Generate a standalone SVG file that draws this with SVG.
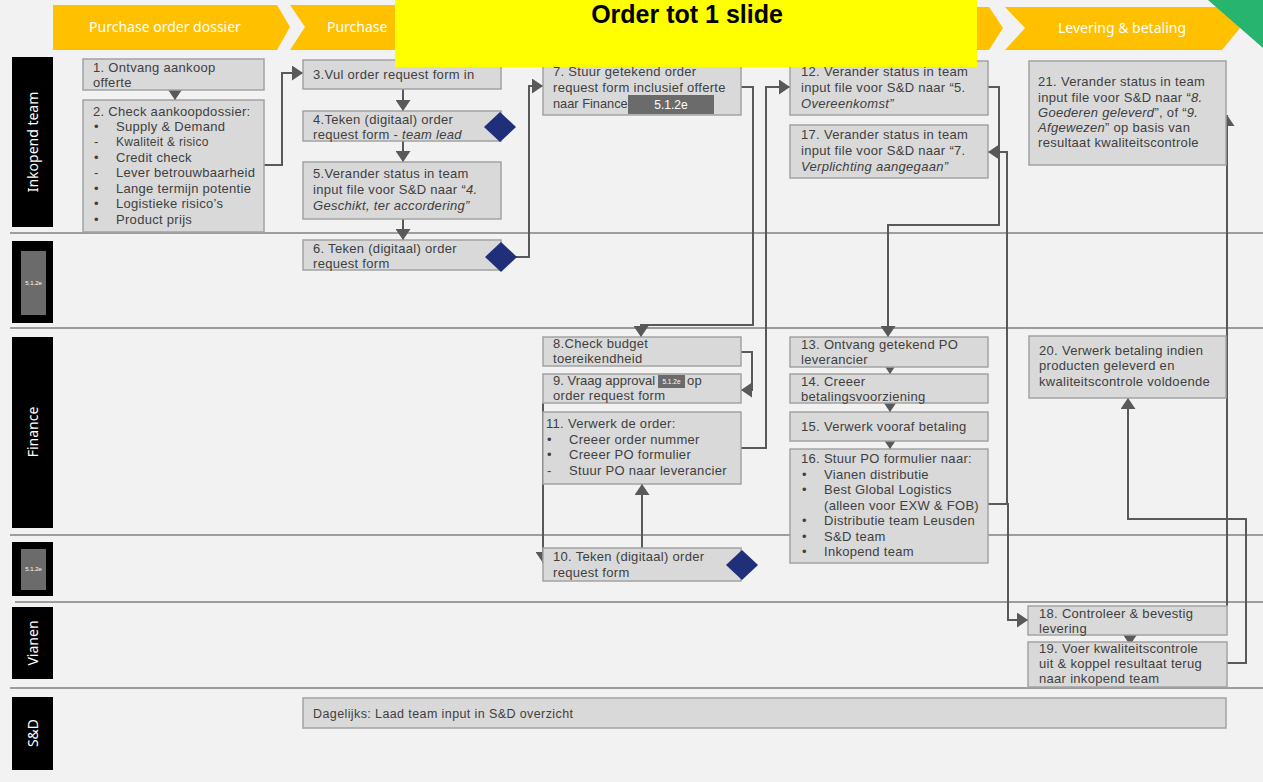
<svg xmlns="http://www.w3.org/2000/svg" width="1263" height="782" viewBox="0 0 1263 782">
<defs>
<marker id="ah" viewBox="0 0 10 10" refX="10" refY="5" markerUnits="userSpaceOnUse" markerWidth="11" markerHeight="15" orient="auto" preserveAspectRatio="none">
<path d="M0,0 L10,5 L0,10 z" fill="#595959"/>
</marker>
<style>
.bg{fill:#f2f2f2}
.chev{fill:#ffc000}
.chevt{font-family:"Noto Sans","DejaVu Sans",sans-serif;font-size:14px;fill:#ffffff}
.lane{fill:#000000}
.lanet{font-family:"Noto Sans","DejaVu Sans",sans-serif;font-size:14px;fill:#ffffff}
.red{fill:#6b6b6b}
.redt{font-family:"Liberation Sans",Arial,sans-serif;fill:#ffffff}
.sep{stroke:#808080;stroke-width:1.5;fill:none}
.box{fill:#d9d9d9;stroke:#a3a3a3;stroke-width:1.5}
.t{font-family:"Liberation Sans",Arial,sans-serif;font-size:13px;letter-spacing:0.3px;fill:#404040}
.it{font-style:italic}
.dia{fill:#1f2f7a}
.con{stroke:#595959;stroke-width:2;fill:none;marker-end:url(#ah)}
</style>
</defs>
<rect class="bg" x="0" y="0" width="1263" height="782"/>

<g id="phases">
<polygon class="chev" points="53,5 277,5 290,27 277,50 53,50"/>
<text class="chevt" x="165" y="32" text-anchor="middle">Purchase order dossier</text>
<polygon class="chev" points="290,5 520,5 533,27 520,50 290,50 305,27"/>
<text class="chevt" x="327" y="32">Purchase</text>
<polygon class="chev" points="900,7 989,7 1003,28 989,50 900,50"/>
<polygon class="chev" points="1005,7 1222,7 1240,28 1222,50 1005,50 1025,28"/>
<text class="chevt" x="1122" y="33" text-anchor="middle">Levering &amp; betaling</text>
<polygon points="1208,0 1263,0 1263,48" fill="#27b46e"/>
</g>

<g id="lanes">
<line class="sep" x1="10" y1="233" x2="1263" y2="233"/>
<line class="sep" x1="10" y1="328" x2="1263" y2="328"/>
<line class="sep" x1="10" y1="535" x2="1263" y2="535"/>
<line class="sep" x1="15" y1="602" x2="1263" y2="602"/>
<line class="sep" x1="10" y1="688" x2="1263" y2="688"/>
<g id="lane-inkopend"><rect class="lane" x="12" y="57" width="41" height="170"/><text class="lanet" transform="translate(38,142) rotate(-90)" text-anchor="middle">Inkopend team</text></g>
<g id="lane-redacted1"><rect class="lane" x="12" y="241" width="41" height="82"/><rect class="red" x="21" y="251" width="25" height="64"/><text class="redt" x="33.5" y="285" font-size="6" text-anchor="middle">5.1.2e</text></g>
<g id="lane-finance"><rect class="lane" x="12" y="337" width="41" height="191"/><text class="lanet" transform="translate(38,432) rotate(-90)" text-anchor="middle">Finance</text></g>
<g id="lane-redacted2"><rect class="lane" x="12" y="542" width="41" height="54"/><rect class="red" x="21" y="549" width="25" height="41"/><text class="redt" x="33.5" y="571" font-size="6" text-anchor="middle">5.1.2e</text></g>
<g id="lane-vianen"><rect class="lane" x="12" y="607" width="41" height="72"/><text class="lanet" transform="translate(38,643) rotate(-90)" text-anchor="middle">Vianen</text></g>
<g id="lane-sd"><rect class="lane" x="12" y="697" width="41" height="73"/><text class="lanet" transform="translate(38,733) rotate(-90)" text-anchor="middle">S&amp;D</text></g>
</g>

<g id="connectors">
<path class="con" d="M175,89 L175,100"/>
<path class="con" d="M264,165 L282,165 L282,73 L303,73"/>
<path class="con" d="M403,89 L403,111"/>
<path class="con" d="M403,141 L403,162"/>
<path class="con" d="M403,219 L403,240"/>
<path class="con" d="M516,257 L529,257 L529,86 L543,86"/>
<path class="con" d="M738,87 L753,87 L753,325 L641,325 L641,337"/>
<path class="con" d="M741,352 L752,352 L752,390 L741,390"/>
<path class="con" d="M543,403 L543,563"/>
<path class="con" d="M642,548 L642,484"/>
<path class="con" d="M741,448 L766,448 L766,87 L790,87"/>
<path class="con" d="M988,87 L999,87 L999,225 L888,225 L888,337"/>
<path class="con" d="M890,362 L890,374"/>
<path class="con" d="M890,400 L890,412"/>
<path class="con" d="M890,438 L890,449"/>
<path class="con" d="M988,504 L1007,504 L1007,152 L988,152"/>
<path class="con" d="M1007,504 L1008,504 L1008,620 L1028,620"/>
<path class="con" d="M1130,634 L1130,645"/>
<path class="con" d="M1227,663 L1246,663 L1246,519 L1128,519 L1128,398"/>
<path class="con" d="M1227,606 L1227,115"/>
</g>

<g id="n1"><rect class="box" x="83" y="59" width="181" height="31"/>
<text class="t" x="93" y="72">1. Ontvang aankoop</text><text class="t" x="93" y="87">offerte</text></g>

<g id="n2"><rect class="box" x="83" y="100" width="181" height="132"/>
<text class="t" x="93" y="116">2. Check aankoopdossier:</text>
<text class="t" x="94" y="131">•</text><text class="t" x="116" y="131">Supply &amp; Demand</text>
<text class="t" x="94" y="146">-</text><text class="t" x="116" y="146" style="font-size:12px">Kwaliteit &amp; risico</text>
<text class="t" x="94" y="162">•</text><text class="t" x="116" y="162">Credit check</text>
<text class="t" x="94" y="177">-</text><text class="t" x="116" y="177">Lever betrouwbaarheid</text>
<text class="t" x="94" y="193">•</text><text class="t" x="116" y="193">Lange termijn potentie</text>
<text class="t" x="94" y="208">•</text><text class="t" x="116" y="208">Logistieke risico’s</text>
<text class="t" x="94" y="224">•</text><text class="t" x="116" y="224">Product prijs</text></g>

<g id="n3"><rect class="box" x="303" y="60" width="198" height="29"/>
<text class="t" x="313" y="79">3.Vul order request form in</text></g>

<g id="n4"><rect class="box" x="303" y="111" width="198" height="30"/>
<text class="t" x="313" y="124">4.Teken (digitaal) order</text>
<text class="t" x="313" y="139">request form - <tspan class="it">team lead</tspan></text>
<polygon class="dia" points="500,112 516,127 500,142 484,127"/></g>

<g id="n5"><rect class="box" x="303" y="162" width="198" height="57"/>
<text class="t" x="313" y="178">5.Verander status in team</text>
<text class="t" x="313" y="194">input file voor S&amp;D naar “<tspan class="it">4.</tspan></text>
<text class="t it" x="313" y="210">Geschikt, ter accordering”</text></g>

<g id="n6"><rect class="box" x="303" y="240" width="198" height="30"/>
<text class="t" x="313" y="253">6. Teken (digitaal) order</text>
<text class="t" x="313" y="268">request form</text>
<polygon class="dia" points="501,242 517,257 501,272 485,257"/></g>

<g id="n7"><rect class="box" x="543" y="61" width="198" height="54"/>
<text class="t" x="553" y="76">7. Stuur getekend order</text>
<text class="t" x="553" y="92">request form inclusief offerte</text>
<text class="t" x="553" y="108" style="font-size:12.8px;letter-spacing:0">naar Finance</text>
<rect class="red" x="628" y="95" width="86" height="19"/>
<text class="redt" x="671" y="109" font-size="12" text-anchor="middle">5.1.2e</text></g>

<g id="n8"><rect class="box" x="543" y="337" width="198" height="29"/>
<text class="t" x="553" y="348">8.Check budget</text>
<text class="t" x="553" y="363">toereikendheid</text></g>

<g id="n9"><rect class="box" x="543" y="374" width="198" height="29"/>
<text class="t" x="553" y="385" style="letter-spacing:0">9. Vraag approval</text>
<rect class="red" x="658" y="375" width="27" height="13"/>
<text class="redt" x="671.5" y="384" font-size="6.5" text-anchor="middle">5.1.2e</text>
<text class="t" x="687" y="385">op</text>
<text class="t" x="553" y="400">order request form</text></g>

<g id="n11"><rect class="box" x="543" y="412" width="198" height="72"/>
<text class="t" x="546" y="428">11. Verwerk de order:</text>
<text class="t" x="547" y="444">•</text><text class="t" x="569" y="444">Creeer order nummer</text>
<text class="t" x="547" y="459">•</text><text class="t" x="569" y="459">Creeer PO formulier</text>
<text class="t" x="547" y="475">-</text><text class="t" x="569" y="475">Stuur PO naar leverancier</text></g>

<g id="n10"><rect class="box" x="543" y="548" width="198" height="33"/>
<text class="t" x="553" y="561">10. Teken (digitaal) order</text>
<text class="t" x="553" y="577">request form</text>
<polygon class="dia" points="742,550 758,565 742,580 726,565"/></g>

<g id="n12"><rect class="box" x="790" y="61" width="198" height="54"/>
<text class="t" x="801" y="76">12. Verander status in team</text>
<text class="t" x="801" y="92">input file voor S&amp;D naar “5.</text>
<text class="t it" x="801" y="108">Overeenkomst”</text></g>

<g id="n17"><rect class="box" x="790" y="125" width="198" height="53"/>
<text class="t" x="801" y="139">17. Verander status in team</text>
<text class="t" x="801" y="155">input file voor S&amp;D naar “7.</text>
<text class="t it" x="801" y="171">Verplichting aangegaan”</text></g>

<g id="n13"><rect class="box" x="790" y="337" width="198" height="30"/>
<text class="t" x="801" y="349">13. Ontvang getekend PO</text>
<text class="t" x="801" y="364">leverancier</text></g>

<g id="n14"><rect class="box" x="790" y="374" width="198" height="29"/>
<text class="t" x="801" y="386">14. Creeer</text>
<text class="t" x="801" y="401">betalingsvoorziening</text></g>

<g id="n15"><rect class="box" x="790" y="412" width="198" height="29"/>
<text class="t" x="801" y="431">15. Verwerk vooraf betaling</text></g>

<g id="n16"><rect class="box" x="790" y="449" width="198" height="114"/>
<text class="t" x="801" y="463">16. Stuur PO formulier naar:</text>
<text class="t" x="802" y="479">•</text><text class="t" x="824" y="479">Vianen distributie</text>
<text class="t" x="802" y="494">•</text><text class="t" x="824" y="494">Best Global Logistics</text>
<text class="t" x="824" y="510">(alleen voor EXW &amp; FOB)</text>
<text class="t" x="802" y="525">•</text><text class="t" x="824" y="525">Distributie team Leusden</text>
<text class="t" x="802" y="541">•</text><text class="t" x="824" y="541">S&amp;D team</text>
<text class="t" x="802" y="556">•</text><text class="t" x="824" y="556">Inkopend team</text></g>

<g id="n21"><rect class="box" x="1029" y="61" width="197" height="104"/>
<text class="t" x="1038" y="86">21. Verander status in team</text>
<text class="t" x="1038" y="102">input file voor S&amp;D naar “<tspan class="it">8.</tspan></text>
<text class="t" x="1038" y="117"><tspan class="it">Goederen geleverd</tspan>”, of “<tspan class="it">9.</tspan></text>
<text class="t" x="1038" y="132"><tspan class="it">Afgewezen</tspan>” op basis van</text>
<text class="t" x="1038" y="147">resultaat kwaliteitscontrole</text></g>

<g id="n20"><rect class="box" x="1029" y="336" width="197" height="62"/>
<text class="t" x="1039" y="355">20. Verwerk betaling indien</text>
<text class="t" x="1039" y="370">producten geleverd en</text>
<text class="t" x="1039" y="386">kwaliteitscontrole voldoende</text></g>

<g id="n18"><rect class="box" x="1028" y="606" width="199" height="29"/>
<text class="t" x="1039" y="618">18. Controleer &amp; bevestig</text>
<text class="t" x="1039" y="633">levering</text></g>

<g id="n19"><rect class="box" x="1028" y="642" width="199" height="45"/>
<text class="t" x="1039" y="653">19. Voer kwaliteitscontrole</text>
<text class="t" x="1039" y="668">uit &amp; koppel resultaat terug</text>
<text class="t" x="1039" y="683">naar inkopend team</text></g>

<g id="nsd"><rect class="box" x="303" y="698" width="923" height="30"/>
<text class="t" x="313" y="718" style="font-size:12.5px;letter-spacing:0.4px">Dagelijks: Laad team input in S&amp;D overzicht</text></g>

<g id="title"><rect x="395" y="0" width="582" height="67" fill="#ffff00"/>
<text x="687" y="23" text-anchor="middle" font-family="'Liberation Sans',Arial,sans-serif" font-weight="bold" font-size="25" fill="#000000">Order tot 1 slide</text></g>
</svg>
